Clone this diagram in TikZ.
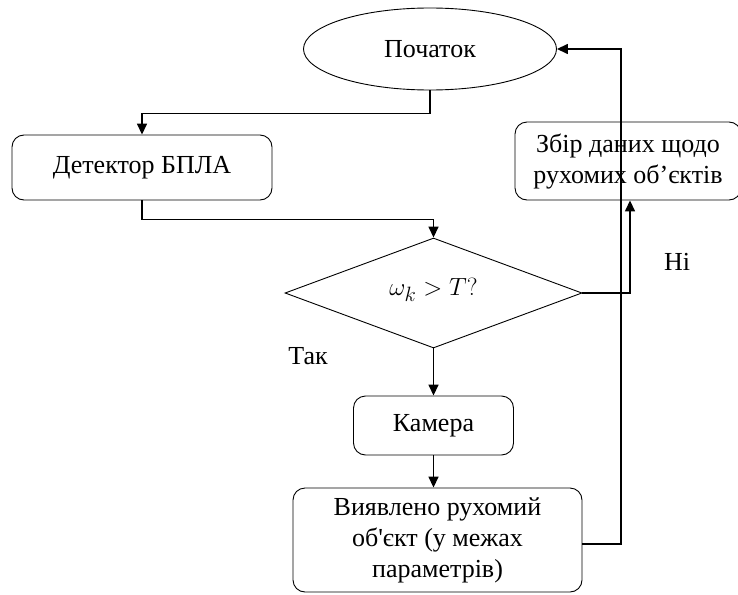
\documentclass[tikz,border=0pt]{standalone}
\usepackage{fontspec}
\setmainfont{Liberation Serif}
\newfontfamily\rawf{Liberation Serif}[Ligatures=TeXOff]
\usetikzlibrary{shapes.geometric,arrows.meta}
\begin{document}
\begin{tikzpicture}[x=1pt,y=-1pt,
  every node/.style={font=\fontsize{26}{31}\selectfont, align=center, inner sep=0pt},
  shp/.style={draw, line width=0.9pt},
  rbox/.style={shp, rounded corners=12pt},
  arr/.style={line width=1.5pt, -{Triangle[length=11pt,width=10pt]}}]
\useasboundingbox (0,0) rectangle (738,594);
\node[shp, ellipse, minimum width=253pt, minimum height=82pt] (start) at (430,49) {Початок};
\node[rbox, minimum width=260pt, minimum height=65pt] (det) at (142,167.5) {Детектор БПЛА};
\node[shp, diamond, minimum width=297pt, minimum height=110pt, aspect=2.7] (dia) at (433.5,293) {};
\node[font=\fontsize{27.5}{31}\selectfont] (cond) at (433.5,290) {$\omega_k > T?$};
\node[rbox, minimum width=226pt, minimum height=78pt] (zb) at (628,161) {Збір даних щодо\\рухомих об’єктів};
\node[rbox, minimum width=160pt, minimum height=59pt] (cam) at (433.5,425.5) {Камера};
\node[rbox, minimum width=289pt, minimum height=104pt] (bot) at (437.5,540) {Виявлено рухомий\\об{\rawf'}єкт (у межах\\параметрів)};
\node (tak) at (308,356) {Так};
\node (ni) at (677,262) {Ні};
\draw[arr] (start.south) -- ++(0,23) -| (det.north);
\draw[arr] (det.south) -- ++(0,19) -| (dia.north);
\draw[arr] (dia.east) -| ([xshift=2pt]zb.south);
\draw[arr] (dia.south) -- (cam.north);
\draw[arr] (cam.south) -- (cam.south |- bot.north);
\coordinate (r) at (621,544);
\draw[arr] ([yshift=-4pt]bot.east) -- (r) |- (start.east);
\end{tikzpicture}
\end{document}
